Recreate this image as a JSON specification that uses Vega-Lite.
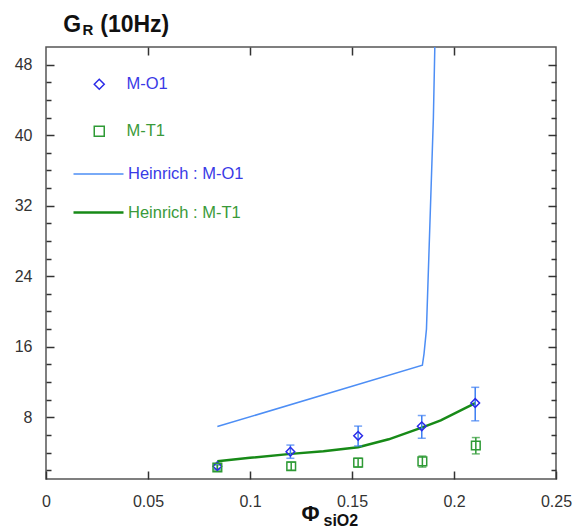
{
  "$schema": "https://vega.github.io/schema/vega-lite/v6.json",
  "width": 510,
  "height": 432,
  "autosize": {"type": "none"},
  "padding": {"left": 46, "top": 47, "right": 18, "bottom": 49},
  "config": {
    "font": "Liberation Sans",
    "view": {"stroke": "#555", "strokeWidth": 1.5},
    "axis": {"grid": false, "domainColor": "#555", "domainWidth": 1.5, "tickColor": "#333", "tickWidth": 1.5, "labelColor": "#333", "labelFontSize": 16, "labelFont": "Liberation Sans", "titleFont": "Liberation Sans"},
    "legend": {"labelFont": "Liberation Sans"}
  },
  "title": {"text": "G\u00a0\u00a0\u00a0(10Hz)", "anchor": "start", "dx": 49, "dy": 48, "offset": 15, "baseline": "alphabetic", "fontSize": 23, "fontWeight": "bold", "color": "#111", "font": "Liberation Sans"},
  "datasets": {
    "heinrich": [
      {"phi": 0.084, "g": 6.95, "series": "Heinrich : M-O1"},
      {"phi": 0.1845, "g": 13.9, "series": "Heinrich : M-O1"},
      {"phi": 0.1853, "g": 15.2, "series": "Heinrich : M-O1"},
      {"phi": 0.1865, "g": 18.0, "series": "Heinrich : M-O1"},
      {"phi": 0.1899, "g": 42.0, "series": "Heinrich : M-O1"},
      {"phi": 0.1906, "g": 50.0, "series": "Heinrich : M-O1"},
      {"phi": 0.1912, "g": 56.0, "series": "Heinrich : M-O1"},
      {"phi": 0.084, "g": 3.0, "series": "Heinrich : M-T1"},
      {"phi": 0.1, "g": 3.4, "series": "Heinrich : M-T1"},
      {"phi": 0.12, "g": 3.85, "series": "Heinrich : M-T1"},
      {"phi": 0.136, "g": 4.15, "series": "Heinrich : M-T1"},
      {"phi": 0.153, "g": 4.6, "series": "Heinrich : M-T1"},
      {"phi": 0.168, "g": 5.5, "series": "Heinrich : M-T1"},
      {"phi": 0.1845, "g": 6.85, "series": "Heinrich : M-T1"},
      {"phi": 0.1935, "g": 7.65, "series": "Heinrich : M-T1"},
      {"phi": 0.2104, "g": 9.6, "series": "Heinrich : M-T1"}
    ],
    "pts": [
      {"phi": 0.084, "g": 2.45, "lo": 2.15, "hi": 2.75, "series": "M-O1"},
      {"phi": 0.1198, "g": 4.1, "lo": 3.35, "hi": 4.85, "series": "M-O1"},
      {"phi": 0.153, "g": 5.9, "lo": 4.75, "hi": 7.0, "series": "M-O1"},
      {"phi": 0.1842, "g": 6.98, "lo": 5.62, "hi": 8.2, "series": "M-O1"},
      {"phi": 0.2104, "g": 9.62, "lo": 7.6, "hi": 11.4, "series": "M-O1"},
      {"phi": 0.084, "g": 2.3, "lo": 2.0, "hi": 2.6, "series": "M-T1"},
      {"phi": 0.1202, "g": 2.45, "lo": 2.0, "hi": 2.9, "series": "M-T1"},
      {"phi": 0.153, "g": 2.85, "lo": 2.35, "hi": 3.35, "series": "M-T1"},
      {"phi": 0.1845, "g": 3.0, "lo": 2.35, "hi": 3.6, "series": "M-T1"},
      {"phi": 0.2107, "g": 4.8, "lo": 3.85, "hi": 5.7, "series": "M-T1"}
    ]
  },
  "layer": [
    {
      "data": {"name": "heinrich"},
      "mark": {"type": "line", "clip": true},
      "encoding": {
        "x": {"field": "phi", "type": "quantitative", "scale": {"domain": [0, 0.25], "nice": false, "zero": false},
          "axis": {"orient": "bottom", "values": [0, 0.05, 0.1, 0.15, 0.2, 0.25], "format": "~g", "tickSize": -8, "labelPadding": 22, "labelFlush": false, "domain": false,
            "title": "Φ", "titleFontSize": 22, "titleFontWeight": "bold", "titleX": 255, "titleY": 41, "titleAlign": "left", "titleBaseline": "alphabetic", "titleColor": "#111"}},
        "y": {"field": "g", "type": "quantitative", "scale": {"domain": [1, 50], "nice": false, "zero": false},
          "axis": {"orient": "left", "values": [2, 4, 6, 8, 10, 12, 14, 16, 18, 20, 22, 24, 26, 28, 30, 32, 34, 36, 38, 40, 42, 44, 46, 48],
            "labelExpr": "datum.value % 8 === 0 ? datum.label : ''",
            "tickSize": {"condition": {"test": "datum.value % 8 === 0", "value": -8}, "value": -5},
            "labelPadding": 22, "domain": false,
            "title": "R", "titleAngle": 0, "titleX": 36, "titleY": -13, "titleAlign": "left", "titleBaseline": "alphabetic", "titleFontSize": 15, "titleFontWeight": "bold", "titleColor": "#111"}},
        "color": {"field": "series", "type": "nominal",
          "scale": {"domain": ["Heinrich : M-O1", "Heinrich : M-T1"], "range": ["#4d8ef5", "#178a17"]},
          "legend": {"orient": "none", "legendX": 26, "legendY": 101, "title": null, "symbolType": "stroke", "symbolSize": 2500, "labelFontSize": 16.5, "labelOffset": 3, "rowPadding": 3,
            "labelColor": {"expr": "indexof(datum.label, 'T1') >= 0 ? '#3a9a3a' : '#3a3ae6'"}}},
        "strokeWidth": {"field": "series", "type": "nominal",
          "scale": {"domain": ["Heinrich : M-O1", "Heinrich : M-T1"], "range": [1.5, 2.5]},
          "legend": {"orient": "none", "legendX": 26, "legendY": 101, "title": null, "symbolType": "stroke", "symbolSize": 2500, "labelFontSize": 16.5, "labelOffset": 3, "rowPadding": 3,
            "labelColor": {"expr": "indexof(datum.label, 'T1') >= 0 ? '#3a9a3a' : '#3a3ae6'"}}}
      }
    },
    {
      "data": {"name": "pts"},
      "mark": {"type": "errorbar", "ticks": {"size": 8}, "thickness": 1.5},
      "encoding": {
        "x": {"field": "phi", "type": "quantitative", "scale": {"domain": [0, 0.25], "nice": false, "zero": false}, "axis": null},
        "y": {"field": "lo", "type": "quantitative", "scale": {"domain": [1, 50], "nice": false, "zero": false}, "axis": null},
        "y2": {"field": "hi"},
        "color": {"field": "series", "type": "nominal", "scale": {"domain": ["M-O1", "M-T1"], "range": ["#3c7ef2", "#2e9a35"]}, "legend": null}
      }
    },
    {
      "data": {"name": "pts"},
      "mark": {"type": "point", "filled": false, "strokeWidth": 1.5, "opacity": 1, "size": 75},
      "encoding": {
        "x": {"field": "phi", "type": "quantitative", "scale": {"domain": [0, 0.25], "nice": false, "zero": false},
          "axis": {"orient": "top", "values": [0.05, 0.1, 0.15, 0.2], "labels": false, "domain": false, "tickSize": -8,
            "title": "siO2", "titleFontSize": 16, "titleFontWeight": "bold", "titleX": 277, "titleY": 478, "titleAlign": "left", "titleBaseline": "alphabetic", "titleColor": "#111"}},
        "y": {"field": "g", "type": "quantitative", "scale": {"domain": [1, 50], "nice": false, "zero": false},
          "axis": {"orient": "right", "values": [2, 4, 6, 8, 10, 12, 14, 16, 18, 20, 22, 24, 26, 28, 30, 32, 34, 36, 38, 40, 42, 44, 46, 48],
            "labels": false, "domain": false, "title": null,
            "tickSize": {"condition": {"test": "datum.value % 8 === 0", "value": -8}, "value": -5}}},
        "color": {"field": "series", "type": "nominal", "scale": {"domain": ["M-O1", "M-T1"], "range": ["#2b2be8", "#2e9a35"]},
          "legend": {"orient": "none", "legendX": 45, "legendY": 29, "title": null, "labelFontSize": 16.5, "labelOffset": 19, "rowPadding": 30, "symbolStrokeWidth": 1.5,
            "labelColor": {"expr": "indexof(datum.label, 'T1') >= 0 ? '#3a9a3a' : '#3a3ae6'"}}},
        "shape": {"field": "series", "type": "nominal", "scale": {"domain": ["M-O1", "M-T1"], "range": ["diamond", "square"]},
          "legend": {"orient": "none", "legendX": 45, "legendY": 29, "title": null, "labelFontSize": 16.5, "labelOffset": 19, "rowPadding": 30, "symbolStrokeWidth": 1.5,
            "labelColor": {"expr": "indexof(datum.label, 'T1') >= 0 ? '#3a9a3a' : '#3a3ae6'"}}}
      }
    }
  ],
  "resolve": {
    "scale": {"color": "independent", "strokeWidth": "independent", "shape": "independent"},
    "axis": {"x": "independent", "y": "independent"},
    "legend": {"color": "independent", "strokeWidth": "independent", "shape": "independent"}
  }
}
